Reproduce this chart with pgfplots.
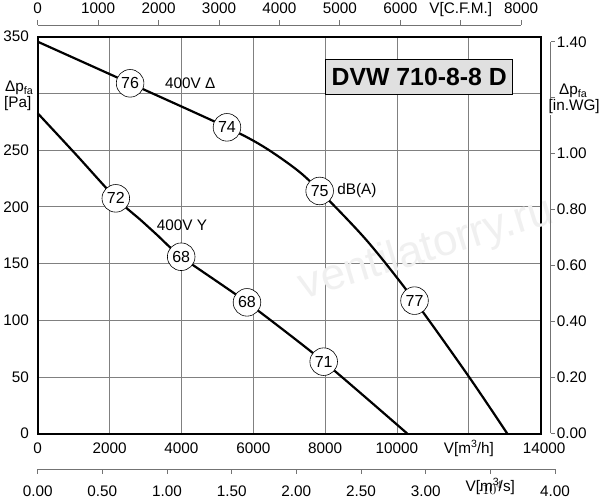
\documentclass[border=0pt]{standalone}
\usepackage{pgfplots}
\pgfplotsset{compat=1.18}
\usepackage{fontspec}
\setmainfont{Liberation Sans}
\newcommand{\fs}{\fontsize{15.3}{18}\selectfont}
\newcommand{\supr}[1]{\raisebox{0.42em}{\fontsize{10.5}{11}\selectfont #1}}
\begin{document}
\begin{tikzpicture}[x=1pt,y=1pt]
\useasboundingbox (-37.7,-66.3) rectangle (562.3,433.7);
% main axis
\begin{axis}[at={(0,0)}, anchor=south west, scale only axis,
  width=503pt, height=397pt,
  xmin=0, xmax=14000, ymin=0, ymax=350,
  xtick={0,2000,4000,6000,8000,10000,12000,14000},
  ytick={0,50,100,150,200,250,300,350},
  xticklabels={0,2000,4000,6000,8000,10000,{V[m\supr{3}/h]},{\hspace*{7pt}14000}},
  yticklabels={0,50,100,150,200,250,{},350},
  grid=major, grid style={black!50, line width=0.8pt},
  major tick length=0pt,
  axis line style={line width=2pt},
  xticklabel style={font=\fs, anchor=base, inner sep=0pt, yshift=-19.9pt},
  yticklabel style={font=\fs, anchor=east, inner sep=0pt, xshift=-8.7pt},
  clip=false]
\node[rotate=17, font=\fontsize{44}{48}\selectfont, text=black!6] at (axis cs:10822,162) {ventilatorry.ru};
\addplot[black, line width=2.2pt, smooth, tension=0.5] coordinates {
 (0,345.6) (2572,308.9) (5268,270.1) (6288,253) (7218,232.5) (7848,214)
 (9168,170) (10488,117.3) (12000,50.3) (13071,0)};
\addplot[black, line width=2.2pt, smooth, tension=0.4] coordinates {
 (0,282.5) (1087,245.4) (2174,207.5) (2851,188.8) (3317,175.4) (3994,156) (5825,115.8) (7960,63.5) (10290,0)};
\addplot[only marks, mark=*, mark size=13.8pt,
  mark options={fill=white, draw=black, line width=0.6pt},
  point meta=explicit symbolic, nodes near coords,
  nodes near coords align={anchor=center},
  every node near coord/.append style={font=\fontsize{16}{18}\selectfont, anchor=center, inner sep=0pt}]
  coordinates {(2572,308.9) [76] (5268,270.1) [74] (7848,214) [75] (10488,117.3) [77]
   (2174,207.5) [72] (3994,156) [68] (5825,115.8) [68] (7960,63.5) [71]};
\node[font=\fs] at (axis cs:4245,308.9) {400V Δ};
\node[font=\fs, anchor=west, inner sep=0pt] at (axis cs:8333,214) {dB(A)};
\node[font=\fs] at (axis cs:4013,184) {400V Y};
\node[draw=black, line width=1.2pt, fill=black!12, minimum width=187pt, minimum height=35pt,
  inner sep=0pt, font=\fontsize{24.8}{28}\selectfont\bfseries] at (axis cs:10619,314.6) {DVW 710-8-8 D};
\end{axis}
% right axis in.WG
\begin{axis}[at={(10pt,0.6pt)}, anchor=south west, scale only axis,
  width=503pt, height=391.3pt,
  xmin=0, xmax=14000, ymin=0, ymax=1.4,
  hide x axis, axis y line=right, axis line style={black!55, line width=0.8pt, -},
  ytick={0,0.2,0.4,0.6,0.8,1.0,1.2,1.4},
  yticklabels={0.00,0.20,0.40,0.60,0.80,1.00,{},1.40},
  tick align=outside, major tick length=4pt, tick style={black!55, line width=0.8pt},
  yticklabel style={font=\fs, anchor=west, inner sep=0pt, xshift=2pt}]
\end{axis}
% top axis CFM
\begin{axis}[at={(0,398.7pt)}, anchor=south west, scale only axis,
  width=483.5pt, height=10pt,
  xmin=0, xmax=8000, ymin=0, ymax=1,
  hide y axis, axis x line=top, axis line style={black!55, line width=0.8pt, -},
  xtick={0,1000,2000,3000,4000,5000,6000,7000,8000},
  xticklabels={0,1000,2000,3000,4000,5000,6000,{V[C.F.M.]},8000},
  tick align=outside, major tick length=5pt, tick style={black!55, line width=0.8pt},
  xticklabel style={font=\fs, anchor=base, inner sep=0pt, yshift=6.4pt}]
\end{axis}
% bottom axis m3/s
\begin{axis}[at={(0,-35.3pt)}, anchor=south west, scale only axis,
  width=517.3pt, height=10pt,
  xmin=0, xmax=4, ymin=0, ymax=1,
  hide y axis, axis x line=bottom, axis line style={black!55, line width=0.8pt, -},
  xtick={0,0.5,1,1.5,2,2.5,3,3.5,4},
  xticklabels={0.00,0.50,1.00,1.50,2.00,2.50,3.00,{},4.00},
  tick align=outside, major tick length=5pt, tick style={black!55, line width=0.8pt},
  xticklabel style={font=\fs, anchor=base, inner sep=0pt, yshift=-22.5pt}]
\end{axis}
% side labels
\node[font=\fs, anchor=base, inner sep=0pt] at (452.6,-57.8) {V[m\supr{3}/s]};
\node[font=\fs, anchor=west, inner sep=0pt] at (-32.7,345.7) {Δp\textsubscript{fa}};
\node[font=\fs, anchor=west, inner sep=0pt] at (-33.7,329.7) {[Pa]};
\node[font=\fs, inner sep=0pt] at (535.6,342.7) {Δp\textsubscript{fa}};
\node[font=\fs, fill=white, inner sep=1pt] at (536.5,326.7) {[in.WG]};
\end{tikzpicture}
\end{document}
